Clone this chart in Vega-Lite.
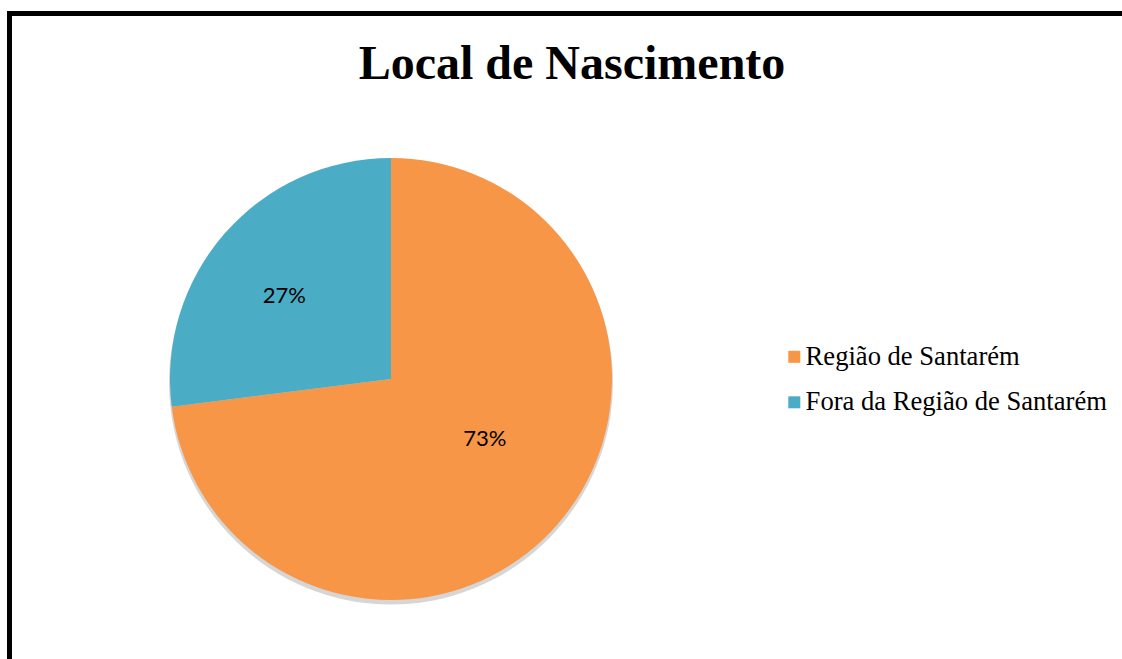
{
  "$schema": "https://vega.github.io/schema/vega-lite/v6.json",
  "autosize": {"type": "none"},
  "width": 1125,
  "height": 680,
  "padding": {"left": 9.5, "top": 13.5, "right": -12.5, "bottom": -34.5},
  "background": "white",
  "view": {"stroke": "black", "strokeWidth": 5, "fill": "white"},
  "config": {"view": {"stroke": "black", "strokeWidth": 5}},
  "title": {
    "text": "Local de Nascimento",
    "font": "Liberation Serif",
    "fontSize": 48,
    "fontWeight": "bold",
    "color": "black",
    "anchor": "middle",
    "frame": "group",
    "baseline": "alphabetic",
    "offset": -63.5,
    "dy": 50
  },
  "data": {
    "values": [
      {"local": "Região de Santarém", "pct": 0.73},
      {"local": "Fora da Região de Santarém", "pct": 0.27}
    ]
  },
  "layer": [
    {
      "mark": {"type": "arc", "x": 381.5, "y": 369, "outerRadius": 222, "color": "#777777", "opacity": 0.3},
      "encoding": {
        "theta": {"field": "pct", "type": "quantitative", "stack": true},
        "order": {"field": "pct", "sort": "descending"}
      }
    },
    {
      "mark": {"type": "arc", "x": 381.5, "y": 365.5, "outerRadius": 221},
      "encoding": {
        "theta": {"field": "pct", "type": "quantitative", "stack": true},
        "order": {"field": "pct", "sort": "descending"},
        "color": {
          "field": "local",
          "type": "nominal",
          "scale": {"domain": ["Região de Santarém", "Fora da Região de Santarém"], "range": ["#F79646", "#4BACC6"]},
          "legend": {
            "title": null,
            "orient": "none",
            "legendX": 771.5,
            "legendY": 330,
            "padding": 0,
            "symbolType": "square",
            "symbolSize": 144,
            "symbolStrokeWidth": 0,
            "labelFont": "Liberation Serif",
            "labelFontSize": 26.6,
            "labelColor": "black",
            "labelOffset": -2,
            "rowPadding": 18.5,
            "labelLimit": 500
          }
        }
      }
    },
    {
      "mark": {"type": "text", "x": 381.5, "y": 365.5, "radius": 123, "thetaOffset": -0.105, "dx": -6.5, "dy": -11.5, "font": "Lato", "fontSize": 22, "color": "black"},
      "encoding": {
        "theta": {"field": "pct", "type": "quantitative", "stack": true},
        "order": {"field": "pct", "sort": "descending"},
        "text": {"field": "pct", "type": "quantitative", "format": ".0%"}
      }
    }
  ]
}
